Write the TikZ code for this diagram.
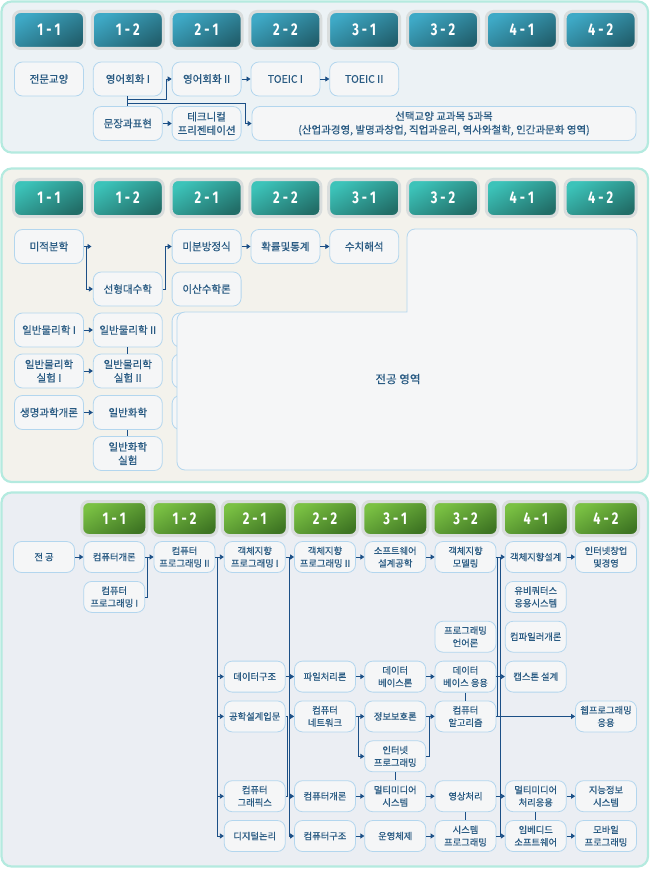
\documentclass[tikz,border=0pt]{standalone}
\usepackage{fontspec}
\setmainfont{Noto Sans CJK KR}[FakeBold=0.5]
\newfontfamily\tabfont{Fira Sans}[FakeStretch=0.75]
\usepackage{xcolor}
\usepackage{tikz}
\usetikzlibrary{arrows.meta}

\definecolor{mint}{HTML}{B4EADF}
\definecolor{panelA}{HTML}{ECF2F5}
\definecolor{panelB}{HTML}{F3F2EC}
\definecolor{panelC}{HTML}{EBEEF3}
\definecolor{halo}{HTML}{D9DDDD}
\definecolor{boxline}{HTML}{B3D6EE}
\definecolor{boxfill}{HTML}{F5F6F7}
\definecolor{boxtext}{HTML}{285A82}
\definecolor{linkblue}{HTML}{1B4F86}
\definecolor{blueTop}{HTML}{3EA9C6}
\definecolor{blueBot}{HTML}{22616F}
\definecolor{tealTop}{HTML}{3CC3B9}
\definecolor{tealBot}{HTML}{226E68}
\definecolor{greenTop}{HTML}{7AC143}
\definecolor{greenBot}{HTML}{3E7523}

\tikzset{
	panel/.style={draw=mint,line width=2.2pt,rounded corners=10pt},
	tab/.style={draw=halo,line width=3pt,rounded corners=7pt,minimum width=71pt,minimum height=37pt,inner sep=0pt,text=white,font=\tabfont\bfseries\fontsize{17}{17}\selectfont},
	stab/.style={minimum width=65pt,minimum height=34pt},
	box/.style={draw=boxline,line width=0.8pt,fill=boxfill,rounded corners=8pt,align=center,text=boxtext,minimum width=69pt,minimum height=34pt,inner sep=1pt,font=\fontsize{10.5}{13.5}\selectfont},
	sbox/.style={box,minimum width=61pt,minimum height=31pt,font=\fontsize{9.3}{12.5}\selectfont},
	link/.style={draw=linkblue,line width=0.8pt},
	arr/.style={link,-{Triangle[length=4pt,width=5pt]}},
}

\begin{document}
\begin{tikzpicture}[x=1pt,y=-1pt]
	\useasboundingbox (0,0) rectangle (650,869);
	% Panels
	\draw[panel,fill=panelA] (1.5,1.5) rectangle (648,152.5);
	\draw[panel,fill=panelB] (1.5,168.5) rectangle (648,482);
	\draw[panel,fill=panelC] (1.5,492.5) rectangle (648,866.5);
	% Semester tabs
	\foreach \lab [count=\n from 0] in {1 - 1,1 - 2,2 - 1,2 - 2,3 - 1,3 - 2,4 - 1,4 - 2}{
		\node[tab,top color=blueTop,bottom color=blueBot,shading angle=30] (ta\n) at ({49+78.8*\n},30) {\lab};
		\node[tab,top color=tealTop,bottom color=tealBot,shading angle=30] (tb\n) at ({49+78.8*\n},198) {\lab};
		\node[tab,stab,top color=greenTop,bottom color=greenBot,shading angle=30] (tc\n) at ({114.25+70.25*\n},518.5) {\lab};
	}

	% Liberal arts
	\node[box] (gen) at (49,79) {전문교양};
	\node[box] (eng1) at (127.8,79) {영어회화 I};
	\node[box] (eng2) at (206.6,79) {영어회화 II};
	\node[box] (toe1) at (285.4,79) {TOEIC I};
	\node[box] (toe2) at (364.2,79) {TOEIC II};
	\node[box] (writ) at (127.8,123.5) {문장과표현};
	\node[box] (tech) at (206.6,123.5) {테크니컬\\프리젠테이션};
	\node[box,minimum width=384pt] (elect) at (444,123.5) {선택교양 교과목 5과목\\(산업과경영, 발명과창업, 직업과윤리, 역사와철학, 인간과문화 영역)};
	\coordinate (k1) at (128,99);
	\coordinate (k2) at (128,103);
	\coordinate (ja) at (166,79);
	\coordinate (jb) at (245,123.5);
	\draw[link] (eng1.south) -- (writ.north);
	\draw[arr] (k1) -| (ja) -- (eng2.west);
	\draw[arr] (k2) -| (jb) -- (elect.west);
	\draw[arr] (eng2.east) -- (toe1.west);
	\draw[arr] (toe1.east) -- (toe2.west);
	\draw[arr] (writ.east) -- (tech.west);

	% Basic science
	\node[box] (calc) at (49,246.5) {미적분학};
	\node[box] (linalg) at (127.8,289) {선형대수학};
	\node[box] (diffeq) at (206.6,246.5) {미분방정식};
	\node[box] (disc) at (206.6,289) {이산수학론};
	\node[box] (prob) at (285.4,246.5) {확률및통계};
	\node[box] (numan) at (364.2,246.5) {수치해석};
	\node[box] (phy1) at (49,330) {일반물리학 I};
	\node[box] (phy2) at (127.8,330) {일반물리학 II};
	\node[box] (phl1) at (49,371) {일반물리학\\실험 I};
	\node[box] (phl2) at (127.8,371) {일반물리학\\실험 II};
	\node[box] (bio) at (49,412.5) {생명과학개론};
	\node[box] (chem) at (127.8,412.5) {일반화학};
	\node[box] (chl) at (127.8,453.5) {일반화학\\실험};
	\foreach \y [count=\n] in {330,371,412.5}
		\node[box] (hid\n) at (206.6,\y) {};
	% Major area (covers the hidden column)
	\draw[draw=boxline,line width=0.8pt,fill=boxfill,rounded corners=8pt] (177,390) -- (177,312) [sharp corners] -- (407,312) [rounded corners=8pt] -- (407,229) -- (637,229) -- (637,470) -- (177,470) -- cycle;
	\node[text=boxtext,font=\fontsize{11.5}{11.5}\selectfont] (major) at (398,379) {전공 영역};
	\coordinate (jc) at (86.5,246.5);
	\coordinate (stub) at (91.5,246.5);
	\coordinate (jd) at (165.5,246.5);
	\draw[arr] (calc.east) -- (stub);
	\draw[arr] (jc) |- (linalg.west);
	\draw[arr] (linalg.east) -| (jd) -- (diffeq.west);
	\draw[arr] (diffeq.east) -- (prob.west);
	\draw[arr] (prob.east) -- (numan.west);
	\draw[arr] (phy1.east) -- (phy2.west);
	\draw[link] (phy2.south) -- (phl2.north);
	\draw[arr] (phl1.east) -- (phl2.west);
	\draw[arr] (bio.east) -- (chem.west);
	\draw[link] (chem.south) -- (chl.north);

	% Major courses
	\node[sbox] (maj) at (44,557) {전 공};
	\node[sbox] (intro) at (114.25,557) {컴퓨터개론};
	\node[sbox] (cp2) at (184.5,557) {컴퓨터\\프로그래밍 II};
	\node[sbox] (oop1) at (254.75,557) {객체지향\\프로그래밍 I};
	\node[sbox] (oop2) at (325,557) {객체지향\\프로그래밍 II};
	\node[sbox] (swe) at (395.25,557) {소프트웨어\\설계공학};
	\node[sbox] (oom) at (465.5,557) {객체지향\\모델링};
	\node[sbox] (ood) at (535.75,557) {객체지향설계};
	\node[sbox] (startup) at (606,557) {인터넷창업\\및경영};
	\node[sbox] (cp1) at (114.25,596.9) {컴퓨터\\프로그래밍 I};
	\node[sbox] (ubi) at (535.75,596.9) {유비쿼터스\\응용시스템};
	\node[sbox] (plang) at (465.5,636.7) {프로그래밍\\언어론};
	\node[sbox] (comp) at (535.75,636.7) {컴파일러개론};
	\node[sbox] (ds) at (254.75,676.6) {데이터구조};
	\node[sbox] (fp) at (325,676.6) {파일처리론};
	\node[sbox] (dbt) at (395.25,676.6) {데이터\\베이스론};
	\node[sbox] (dba) at (465.5,676.6) {데이터\\베이스 응용};
	\node[sbox] (cap) at (535.75,676.6) {캡스톤 설계};
	\node[sbox] (eng) at (254.75,716.4) {공학설계입문};
	\node[sbox] (net) at (325,716.4) {컴퓨터\\네트워크};
	\node[sbox] (sec) at (395.25,716.4) {정보보호론};
	\node[sbox] (alg) at (465.5,716.4) {컴퓨터\\알고리즘};
	\node[sbox] (web) at (606,716.4) {웹프로그래밍\\응용};
	\node[sbox] (inet) at (395.25,756.3) {인터넷\\프로그래밍};
	\node[sbox] (cg) at (254.75,796.2) {컴퓨터\\그래픽스};
	\node[sbox] (intro2) at (325,796.2) {컴퓨터개론};
	\node[sbox] (mm) at (395.25,796.2) {멀티미디어\\시스템};
	\node[sbox] (img) at (465.5,796.2) {영상처리};
	\node[sbox] (mmp) at (535.75,796.2) {멀티미디어\\처리응용};
	\node[sbox] (ai) at (606,796.2) {지능정보\\시스템};
	\node[sbox] (dl) at (254.75,836) {디지털논리};
	\node[sbox] (arch) at (325,836) {컴퓨터구조};
	\node[sbox] (os) at (395.25,836) {운영체제};
	\node[sbox] (sysp) at (465.5,836) {시스템\\프로그래밍};
	\node[sbox] (emb) at (535.75,836) {임베디드\\소프트웨어};
	\node[sbox] (mob) at (606,836) {모바일\\프로그래밍};
	\coordinate (j12) at (147.5,557);
	\coordinate (v2) at (217.5,557);
	\coordinate (v3) at (289.5,557);
	\coordinate (w3) at (287,796.2);
	\coordinate (j45) at (358.5,716.4);
	\coordinate (j56) at (429,716.4);
	\coordinate (w6) at (497.8,557);
	\coordinate (v6) at (500.3,557);
	\draw[arr] (maj.east) -- (intro.west);
	\draw[arr] (intro.east) -- (cp2.west);
	\draw[link] (cp1.east) -| (j12);
	\draw[link] (cp2.east) -- (v2);
	\foreach \t in {oop1,ds,eng,cg,dl}
		\draw[arr] (v2) |- (\t.west);
	\draw[link] (oop1.east) -- (v3);
	\draw[link] (ds.east) -- (ds.east -| v3);
	\draw[link] (eng.east) -| (w3) -- (cg.east);
	\foreach \t in {oop2,fp,net,intro2,arch}
		\draw[arr] (v3) |- (\t.west);
	\draw[arr] (oop2.east) -- (swe.west);
	\draw[arr] (fp.east) -- (dbt.west);
	\draw[arr] (net.east) -- (sec.west);
	\draw[arr] (j45) |- (inet.west);
	\draw[arr] (intro2.east) -- (mm.west);
	\draw[arr] (arch.east) -- (os.west);
	\draw[arr] (swe.east) -- (oom.west);
	\draw[arr] (dbt.east) -- (dba.west);
	\draw[arr] (sec.east) -- (alg.west);
	\draw[link] (inet.east) -| (j56);
	\draw[arr] (mm.east) -- (img.west);
	\draw[arr] (os.east) -- (sysp.west);
	\draw[link] (inet.south) -- (mm.north);
	\draw[link] (dba.south) -- (alg.north);
	\draw[link] (img.south) -- (sysp.north);
	\draw[link] (mmp.south) -- (emb.north);
	\draw[link] (oom.east) -- (v6);
	\foreach \s in {dba,alg,img,sysp}
		\draw[link] (\s.east) -- (\s.east -| v6);
	\foreach \t in {ood,cap,mmp,emb}
		\draw[arr] (v6) |- (\t.west);
	\draw[arr] (w6) |- (web.west);
	\draw[arr] (ood.east) -- (startup.west);
	\draw[arr] (mmp.east) -- (ai.west);
	\draw[arr] (emb.east) -- (mob.west);
\end{tikzpicture}
\end{document}
